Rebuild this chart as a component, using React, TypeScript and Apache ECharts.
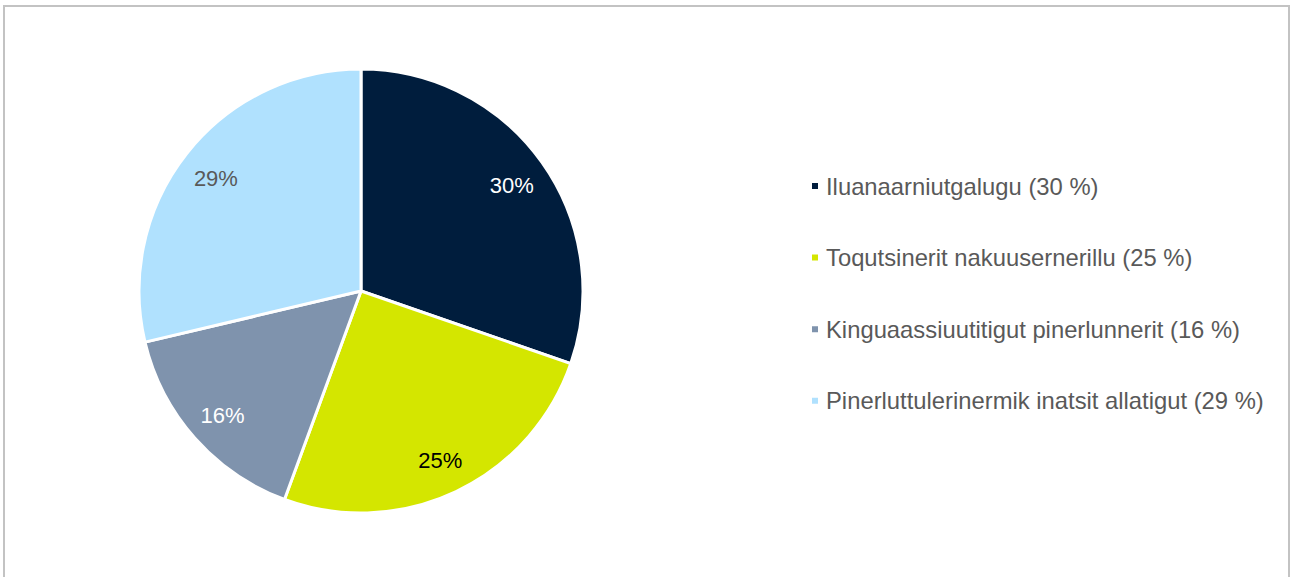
import React, { useEffect, useRef } from "react";
import * as echarts from "echarts";

const categories = [
  "Iluanaarniutgalugu",
  "Toqutsinerit nakuusernerillu",
  "Kinguaassiuutitigut pinerlunnerit",
  "Pinerluttulerinermik inatsit allatigut",
];
// shares; labels show them rounded
const values = [30.3, 25.3, 15.7, 28.7];
const colors = ["#001D3D", "#D4E600", "#7F93AD", "#B0E1FE"];
const labelColors = ["#FFFFFF", "#000000", "#FFFFFF", "#595959"];

export default function App() {
  const ref = useRef<HTMLDivElement>(null);
  useEffect(() => {
    if (!ref.current) return;
    const chart = echarts.init(ref.current, undefined, { renderer: "svg" });
    const data = categories.map((name, i) => ({
      name,
      value: values[i],
      itemStyle: { color: colors[i] },
    }));
    const labelData = categories.map((name, i) => ({
      name,
      value: values[i],
      itemStyle: { color: "rgba(0,0,0,0)" },
      label: { color: labelColors[i] },
    }));
    chart.setOption({
      animation: false,
      backgroundColor: "#ffffff",
      graphic: [
        {
          type: "rect",
          shape: { x: 4, y: 6, width: 1285, height: 590 },
          style: { fill: "none", stroke: "#C3C3C3", lineWidth: 2 },
          silent: true,
        },
      ],
      legend: {
        orient: "vertical",
        left: 810,
        top: 173,
        padding: 0,
        itemWidth: 8,
        itemHeight: 8,
        itemGap: 45.6,
        icon: "rect",
        textStyle: {
          fontFamily: "Liberation Sans, Arial, sans-serif",
          fontSize: 23.8,
          color: "#595959",
          lineHeight: 26,
          padding: [0, 0, 0, 2],
        },
        data: categories,
        formatter: (name: string) => {
          const i = categories.indexOf(name);
          return `${name} (${Math.round(values[i])} %)`;
        },
      },
      series: [
        {
          type: "pie",
          center: [361, 291],
          radius: [0, 222],
          startAngle: 90,
          clockwise: true,
          label: { show: false },
          labelLine: { show: false },
          itemStyle: { borderColor: "#ffffff", borderWidth: 3 },
          emphasis: { disabled: true },
          data,
        },
        {
          type: "pie",
          center: [361, 293],
          radius: [146, 218],
          startAngle: 90,
          clockwise: true,
          silent: true,
          legendHoverLink: false,
          label: {
            show: true,
            position: "inside",
            formatter: (p: any) => `${Math.round(p.value)}%`,
            fontFamily: "Liberation Sans, Arial, sans-serif",
            fontSize: 22,
          },
          labelLine: { show: false },
          emphasis: { disabled: true },
          data: labelData,
        },
      ],
    });
    return () => chart.dispose();
  }, []);
  return (
    <div
      ref={ref}
      style={{ position: "fixed", left: 0, top: 0, width: 1290, height: 577 }}
    />
  );
}
